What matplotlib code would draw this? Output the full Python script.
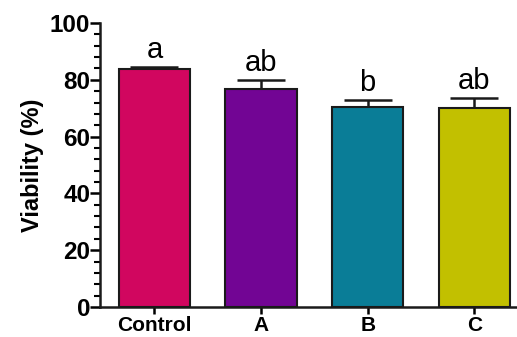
import numpy as np
import matplotlib.pyplot as plt
from matplotlib.ticker import MultipleLocator

groups = ['Control', 'A', 'B', 'C']
viability = [83.8, 76.8, 70.5, 70.2]
sem = [0.8, 3.2, 2.5, 3.5]
letters = ['a', 'ab', 'b', 'ab']
colors = ['#D1065F', '#720594', '#0A7D97', '#C2C000']

plt.rcParams['font.family'] = ['Liberation Sans', 'DejaVu Sans']

fig = plt.figure(figsize=(5.17, 3.37), dpi=100)
ax = fig.add_axes([100 / 517, 30 / 337, 417 / 517, 284 / 337])

x = np.arange(len(groups))
ax.bar(x, viability, width=0.667, color=colors, edgecolor='#1a1a1a', linewidth=1.5, zorder=2)
ax.errorbar(x, viability, yerr=[np.zeros(len(sem)), sem], fmt='none',
            ecolor='#1a1a1a', elinewidth=1.8, capsize=17, capthick=1.8, zorder=1)

for xi, v, s, lab in zip(x, viability, sem, letters):
    ax.text(xi, v + s + 1.0, lab, ha='center', va='bottom', fontsize=21)

ax.set_xlim(-0.51, 3.40)
ax.set_ylim(0, 100)
ax.yaxis.set_major_locator(MultipleLocator(20))
ax.yaxis.set_minor_locator(MultipleLocator(4))
ax.set_xticks(x)
ax.set_xticklabels(groups, fontsize=15, fontweight='bold')
for lbl in ax.get_yticklabels():
    lbl.set_fontweight('bold')
    lbl.set_fontsize(17.5)
ax.tick_params(axis='y', which='major', length=7, width=1.8, pad=0)
ax.tick_params(axis='y', which='minor', length=4, width=1.5)
ax.tick_params(axis='x', length=5, width=1.8, pad=1.5)
ax.set_ylabel('Viability (%)', fontsize=17, fontweight='bold', labelpad=4)

for side in ['top', 'right']:
    ax.spines[side].set_visible(False)
for side in ['left', 'bottom']:
    ax.spines[side].set_linewidth(1.8)
    ax.spines[side].set_color('#1a1a1a')

fig.savefig('out.png', dpi=100)
